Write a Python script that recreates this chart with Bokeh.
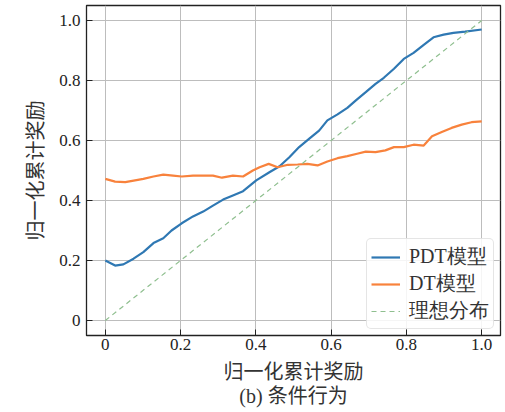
from bokeh.plotting import figure
from bokeh.models import FixedTicker, Legend, LegendItem, Title
from bokeh.embed import file_html
from bokeh.resources import INLINE

# PDT model
pdt_x = [0, 0.026, 0.048, 0.075, 0.101, 0.128, 0.154, 0.176, 0.203, 0.233, 0.26, 0.286,
         0.313, 0.339, 0.366, 0.401, 0.436, 0.463, 0.489, 0.515, 0.542, 0.568, 0.59,
         0.617, 0.643, 0.665, 0.692, 0.718, 0.74, 0.767, 0.793, 0.819, 0.846, 0.872,
         0.899, 0.925, 0.956, 1.0]
pdt_y = [0.2, 0.183, 0.187, 0.206, 0.228, 0.258, 0.274, 0.3, 0.324, 0.347, 0.363, 0.383,
         0.403, 0.417, 0.431, 0.467, 0.494, 0.514, 0.544, 0.578, 0.606, 0.633, 0.667,
         0.687, 0.709, 0.733, 0.761, 0.789, 0.809, 0.839, 0.872, 0.892, 0.919, 0.944,
         0.953, 0.959, 0.963, 0.97]

# DT model
dt_x = [0, 0.026, 0.053, 0.079, 0.101, 0.128, 0.154, 0.18, 0.203, 0.233, 0.26, 0.286,
        0.31, 0.339, 0.366, 0.392, 0.41, 0.434, 0.458, 0.485, 0.511, 0.537, 0.564, 0.59,
        0.617, 0.643, 0.669, 0.692, 0.718, 0.744, 0.767, 0.793, 0.819, 0.846, 0.868,
        0.894, 0.92, 0.947, 0.973, 1.0]
dt_y = [0.472, 0.463, 0.461, 0.467, 0.472, 0.48, 0.486, 0.483, 0.48, 0.483, 0.483, 0.483,
        0.476, 0.483, 0.48, 0.5, 0.511, 0.522, 0.511, 0.519, 0.52, 0.522, 0.517, 0.53,
        0.541, 0.548, 0.556, 0.563, 0.561, 0.567, 0.578, 0.578, 0.586, 0.583, 0.614,
        0.628, 0.642, 0.653, 0.661, 0.664]

# ideal distribution
ideal_x = [0, 1]
ideal_y = [0, 1]

ticks = [0, 0.2, 0.4, 0.6, 0.8, 1.0]
tick_labels = ["0", "0.2", "0.4", "0.6", "0.8", "1.0"]

series_names = ["PDT模型", "DT模型", "理想分布"]
axis_title = "归一化累计奖励"
subtitle = "(b) 条件行为"

FONT = "'Liberation Serif', 'Noto Sans CJK SC'"

p = figure(width=505, height=412, output_backend="svg", toolbar_location=None,
           x_range=(-0.05, 1.05), y_range=(-0.05, 1.05))
p.min_border_left = 86
p.min_border_right = 5
p.min_border_top = 5
p.min_border_bottom = 77

p.background_fill_color = "white"
p.border_fill_color = "white"
p.outline_line_color = "#222222"
p.outline_line_width = 1.3

r_pdt = p.line(pdt_x, pdt_y, line_color="#2f78b3", line_width=2.2)
r_dt = p.line(dt_x, dt_y, line_color="#f8823c", line_width=2.2)
r_ideal = p.line(ideal_x, ideal_y, line_color="#8fbf8f", line_width=1.2, line_dash="5 4")

overrides = {t: l for t, l in zip(ticks, tick_labels)}
for ax in (p.xaxis[0], p.yaxis[0]):
    ax.ticker = FixedTicker(ticks=ticks)
    ax.major_label_overrides = overrides
    ax.major_tick_in = 6
    ax.major_tick_out = 0
    ax.major_tick_line_color = "#222222"
    ax.minor_tick_line_color = None
    ax.axis_line_color = "#222222"
    ax.major_label_text_font = FONT
    ax.major_label_text_font_size = "17px"
    ax.major_label_text_color = "#222222"
    ax.axis_label = axis_title
    ax.axis_label_text_font = FONT
    ax.axis_label_text_font_size = "20px"
    ax.axis_label_text_font_style = "normal"
    ax.axis_label_text_color = "#333333"

p.xaxis[0].major_label_standoff = 3
p.xaxis[0].axis_label_standoff = 8
p.yaxis[0].major_label_standoff = 6
p.yaxis[0].axis_label_standoff = 9

for g in (p.xgrid[0], p.ygrid[0]):
    g.ticker = FixedTicker(ticks=ticks)
    g.grid_line_color = "#bdbdbd"
    g.grid_line_width = 1

legend = Legend(items=[LegendItem(label=series_names[0], renderers=[r_pdt]),
                       LegendItem(label=series_names[1], renderers=[r_dt]),
                       LegendItem(label=series_names[2], renderers=[r_ideal])],
                location="bottom_right")
legend.label_text_font = "Liberation Serif"
legend.label_text_font_size = "20px"
legend.label_text_line_height = 0.85
legend.label_text_color = "#333333"
legend.glyph_width = 29
legend.glyph_height = 16
legend.label_height = 16
legend.label_standoff = 9
legend.spacing = 0
legend.padding = 4
legend.margin = 6
legend.border_line_color = "#cccccc"
legend.border_line_width = 1
legend.background_fill_alpha = 0.85
if "border_radius" in Legend.properties():
    legend.border_radius = 5
p.add_layout(legend, "center")

t = Title(text=subtitle, align="center", text_font=FONT, text_font_size="20px",
          text_font_style="normal", text_color="#333333", standoff=-6)
p.add_layout(t, "below")

open("out.html", "w").write(file_html(p, INLINE))
